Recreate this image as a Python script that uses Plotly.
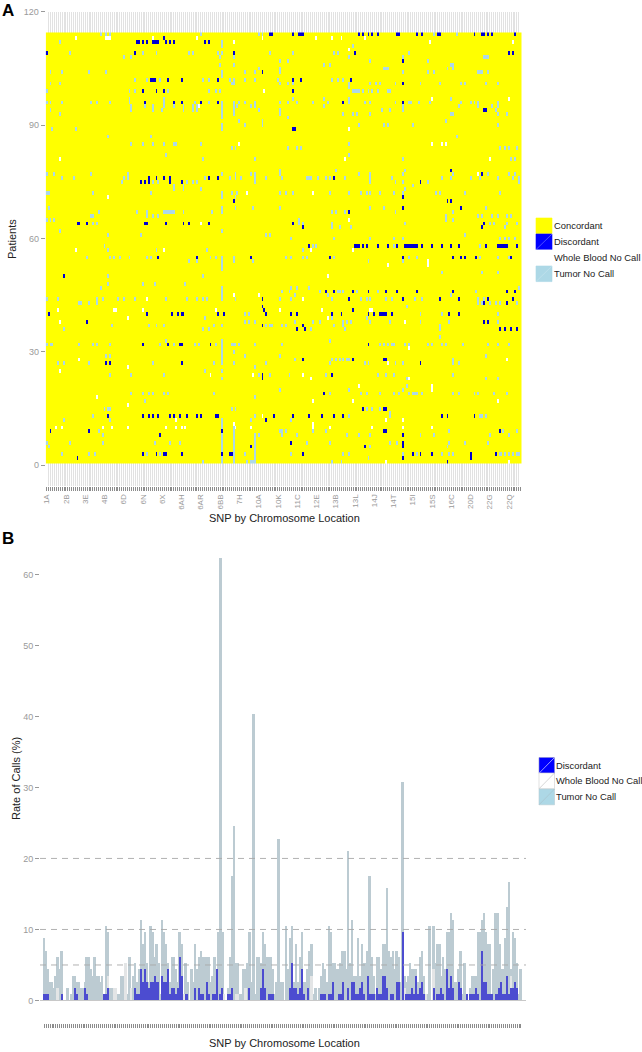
import plotly.graph_objects as go

N_SNP = 247
N_PATIENT = 114
SNP_LABELS = ["1A","2B","3E","4B","6D","6N","6X","6AH","6AR","6BB","7H","10A","10K","11C","12E","13B","13L","14J","14T","15I","15S","16C","20D","22G","22Q"]

# Panel A: patient row -> SNP columns
DISCORDANT = {
114:[117,118,129,132,133,134,163,165,168,170,173,183,184,193,196,204,205,223,227,228,230,232,244],
113:[62],112:[48,49,51,53,56,57,58,59,63,65,67,83,85],109:[1,47,98,161,241,243],107:[186],104:[113],
102:[55,56,57,64,71,90,129,133,159],101:[186],99:[51,58,62,129],96:[52,67,71,81,90,155,186],94:[228,229],
89:[129,130],78:[211],77:[227],76:[54,58,62,65,85,90,150],75:[50,52,54,65,71,195],71:[186],70:[98,209,211],
68:[186,216],67:[158],64:[17,18,22,52,53,63,72,75,85,129,228],63:[134,227],
58:[137,161,162,163,165,167,173,178,183,187,188,189,190,191,192,193,196,201,206,211,215,229,235,236,237,238,239,240,245],
55:[59,79,107,148,186,212,216,218,224,242],50:[10],46:[146,150,160,168,177,183,193,212,240,244],
44:[113,158,186,205,215,230,243],43:[228,240],42:[113],41:[114,160],
40:[2,53,66,69,71,72,90,93,115,128,131,149,154,168,171,174,175,176,177,180,210,215],
38:[22,228,230],37:[113,134],36:[131,135,236,239,242,245],32:[51,64,70,71,86,168],28:[160,176,177,134],
27:[32,34,71,195],24:[113,149],23:[113],19:[145],15:[165,176,177],
13:[33,51,54,56,59,65,67,70,74,79,81,89,90,119,129,137,144,150,155,206,209,223],12:[115],
9:[3,23,92,176,177,236],8:[60,186],6:[128,186],5:[107,166,186],
3:[51,58,62,63,71,92,96,97,134,191,195,201,221,234],2:[17,186,221],1:[209],
}
WHOLE_BLOOD_NO_CALL = {
113:[16,32,33,34,56,79,113,141,149,154,166],112:[98,200,243],110:[158],99:[114],97:[201,241],95:[80],89:[158],
85:[101,201,206,208],81:[8,156,231],77:[225],72:[105,139],71:[33],65:[158],64:[81],
57:[16,62,138,160],54:[199],53:[178,199],50:[147],45:[98,111],44:[53,134],
41:[7,36,37,51,89,122,144,169,170],39:[43,147],38:[8,187],31:[189],28:[18,240],27:[178],26:[43],25:[8],
24:[86,108,134],23:[138,189],21:[163,201],20:[201],18:[27],17:[139,160,235],16:[43],13:[113],12:[68,177,186],
11:[98,139],10:[6,9,30,35,43,63,68,71,73,99,107,139,148,170,186,201],1:[177,241],
}
TUMOR_NO_CALL = {
114:[29,32,34,81,111,113,202,214],112:[8,92],111:[92,160],109:[13,51,58,75,77,90,92,117,129,150,152,189],
108:[41,45,91,98,158,186,228,229,230],107:[122,126,169,199],106:[91,98,145,148,211,212],105:[111,122,176,177,178,209,212],
104:[3,9,23,32,92,104,109,122,186,199,202,225,226,227,230],103:[92],
102:[47,53,60,82,85,96,98,104,109,121,149,152,155],101:[3,8,97,98,122,126,129,158,169,172,174,182,195,205,216,218,229,235],
100:[158],99:[1,44,47,64,85,89,91,160,161,162,163,165,168,170,173,178,179],97:[44,62,129,145,158,211],
96:[1,3,9,24,27,34,44,62,78,85,92,98,101,104,109,122,126,131,139,147,158,166,169,182,189,190,194,200,216,221,223,225,235],
95:[45,52,56,62,67,72,77,79,92,98,100,107,109,145,186,215,225,232,235],
94:[3,45,56,61,72,77,79,92,98,111,122,175,179,186,234],93:[8,92,98,122,155,160,162,169,211,212,235,240],92:[92,126],
91:[101,113,208],90:[92,104,113,163,176,178,191,235],89:[4,16,92],87:[33,55,214],85:[45,51,56,62,67,68,81,158],
84:[97,99,126,131,133,236,239,241,245],82:[63,158],81:[82,109,186,242,244],78:[122,151,187],
77:[1,5,24,43,92,99,107,109,122,163,169,186,212,230,241,244],
76:[9,15,41,43,83,96,99,102,109,115,123,136,137,138,142,146,148,156,169,180,206,211,221,226,235,243,246],
75:[40,56,59,74,77,79,109,169,182,186,199,246],74:[67,72,191],73:[67,72,81,187],
72:[1,2,25,55,92,97,100,122,125,129,148,158,164,167,169,174,181,186,203,205,218,236],71:[92,99],
68:[2,92,99,108,122,169,176,229],67:[28,48,53,62,63,64,65,66,67,72,87,92,149,151,156,182,212],
66:[24,25,53,56,59,208,225,227,232,235,240,242],65:[1,3,5,132,208,212],64:[25,27,132,134,149,187,231,233,240,245],
63:[149,153,159,239],62:[8,92],61:[33,50,115,117,218],60:[128,150,169,181,186,236,239,241,244],
58:[31,139,141,181,226],57:[33,58,84,134],
55:[22,34,36,39,44,53,55,86,89,92,98,125,128,134,136,150,189,193,226,235,241],54:[75,79,92,98,108,168,186],
53:[92],52:[92],51:[206,227,235],50:[33,82],48:[33,51,57,73],47:[29,92,128,131,137,246],
46:[92,123,127,143,152,153,155,162,173,224],45:[92,130,147,211],
44:[1,7,27,30,38,41,47,63,74,79,82,84,92,99,122,128,149,164,167,169,177,180,192,196,225,228],
43:[18,19,23,27,225,227,231,234,236,245],42:[188],40:[104,106,195,206,235],39:[83,147,149,167],
38:[104,106,109,130,139,143,155,157,159,169,179,195,210,235],
37:[35,54,58,62,88,92,115,117,118,123,125,150,155,205],36:[10,82,85,138,156,205],34:[205],33:[63,92,148],
32:[1,3,4,18,25,27,34,60,67,78,80,89,92,97,98,99,101,109,123,174,176,178,180,181,187,189,199,201,206,208,217,230,235,241],
31:[92],30:[92,98],29:[32,34,92,104,122,229],28:[92,130,149,151,153,155,157,158,212],
27:[7,10,23,56,88,92,98,115,148,166,168,182,186,212,215],26:[109],25:[83,92],
24:[34,45,62,111,113,117,127,146,173,177,181,212],23:[92,188,229,235],21:[188],20:[122,158,186],
19:[45,51,54,56,62,64,88,148,164,167,174,181,184,189,191,192,193,196,212,215,223,225,233,240],
18:[109],17:[52],15:[31,33,34,97,99,167,170,174],14:[179],13:[25,109,158,179,226,227,229],12:[10,34,92,107,128],
11:[92],10:[92,98],9:[28,92,98,122,123,125,139,146,210,238,245],8:[30,92,98,111,109,123,131,157,163,169,195,202,231,241],
7:[92,98,109],6:[1,13,30,57,65,70,92,98,109,136,148,179,183,210,218,230],5:[2,92,98,109,169,209],
4:[92,98,109],3:[9,23,26,53,60,92,98,104,109,128,155,158,186,193,206,210,212,236,237,239,241,243,245,246],
2:[92,98,109,168],1:[82,92,98,105,107,108,109,149,154],
}

# Panel B: counts of patients (out of 114) per SNP, in column order
TUMOR_COUNT = [
10,8,5,3,3,2,4,7,5,8,0,0,2,0,1,4,4,3,3,2,2,3,7,7,5,4,7,4,4,3,4,1,12,11,2,2,2,1,1,1,
4,4,6,1,7,2,4,6,3,5,13,9,11,6,3,12,11,7,9,6,1,13,11,9,6,3,7,7,5,3,11,9,1,6,3,0,5,3,9,5,
7,8,7,7,7,7,3,4,7,5,11,71,11,1,0,2,7,20,28,6,6,1,1,5,5,6,11,3,46,1,7,7,6,11,9,7,7,7,5,1,
3,26,3,3,0,12,5,10,12,3,9,3,7,11,3,3,5,8,9,1,2,0,2,4,6,5,3,12,11,6,6,5,5,6,8,8,5,24,6,13,
4,4,10,4,9,6,6,8,20,7,4,1,7,7,5,9,9,18,8,7,8,5,8,7,3,35,4,3,4,6,5,5,5,3,7,8,4,0,1,12,
0,12,6,9,9,4,7,5,11,11,14,13,3,3,5,8,1,6,1,0,2,4,4,4,11,11,13,14,11,9,9,1,5,14,14,9,5,5,10,15,
19,5,11,10,6,1,5]
WHOLE_BLOOD_COUNT = {8:2,34:4,37:2,38:2,43:6,46:2,73:1,94:1,100:1,101:1,139:4,160:3,198:1,202:5,242:4,187:2,105:2}
DISCORDANT_COUNT = {
1:1,2:1,3:1,10:1,17:2,18:1,22:2,23:1,32:1,33:1,34:2,48:2,49:1,50:1,51:5,52:3,53:5,54:3,55:2,56:3,57:3,58:4,59:3,60:3,
62:4,63:3,64:3,65:5,66:1,67:2,68:2,69:1,70:2,71:7,72:4,74:1,75:1,79:2,81:2,82:1,83:1,85:3,86:1,88:1,89:1,90:5,92:1,93:2,
96:1,97:1,98:2,107:2,113:2,114:5,115:2,117:1,118:1,119:1,
128:2,129:6,130:2,131:2,132:1,133:2,134:5,135:1,137:2,144:1,145:1,146:1,148:1,149:1,150:3,153:1,154:1,155:3,158:2,160:3,161:3,
162:1,163:1,164:2,165:3,166:1,168:4,169:1,170:1,171:1,173:2,174:1,175:1,176:4,177:4,178:2,180:1,181:1,183:3,184:3,186:11,
188:1,189:1,190:1,191:2,192:1,193:4,194:1,195:2,196:3,197:1,202:2,204:1,205:1,206:2,207:1,209:5,210:2,211:4,212:2,215:3,216:2,
219:1,221:1,222:1,223:1,224:2,225:1,227:8,228:3,229:3,230:1,231:1,232:1,234:1,235:1,236:2,237:3,238:1,239:1,240:4,241:1,242:2,243:2,244:3,245:2,
}
REFERENCE_RATES = [5, 10, 20]
Y_TICKS_A = [0, 30, 60, 90, 120]
Y_TICKS_B = [0, 10, 20, 30, 40, 50, 60]

# page geometry
W, H = 642, 1052
def px(x): return x / W
def py(y): return 1 - y / H

snps = list(range(1, N_SNP + 1))
patients = list(range(1, N_PATIENT + 1))
z = [[0] * N_SNP for _ in patients]
for code, table in ((3, TUMOR_NO_CALL), (2, WHOLE_BLOOD_NO_CALL), (1, DISCORDANT)):
    for row, cols in table.items():
        for c in cols:
            z[row - 1][c - 1] = code

YELLOW, BLUE, LIGHT = "#ffff00", "#0000d2", "#add8e6"
colorscale = [[0, YELLOW], [0.25, YELLOW], [0.25, BLUE], [0.5, BLUE], [0.5, "#ffffff"], [0.75, "#ffffff"], [0.75, LIGHT], [1, LIGHT]]

tick_text = [""] * N_SNP
for i, lab in enumerate(SNP_LABELS):
    tick_text[i * 10] = lab

rate = 100 / N_PATIENT
fig = go.Figure()
fig.add_trace(go.Heatmap(x=snps, y=patients, z=z, zmin=0, zmax=3, colorscale=[[v, c] for v, c in colorscale],
                         showscale=False, xaxis="x", yaxis="y", xgap=0, ygap=0))
fig.add_trace(go.Bar(x=snps, y=[v * rate for v in TUMOR_COUNT], name="Tumor No Call", marker=dict(color="#bccbd2", line_width=0),
                     xaxis="x2", yaxis="y2", showlegend=False))
fig.add_trace(go.Bar(x=list(WHOLE_BLOOD_COUNT), y=[v * rate for v in WHOLE_BLOOD_COUNT.values()], name="Whole Blood No Call",
                     marker=dict(color="#e3e5e6", line_width=0), xaxis="x2", yaxis="y2", showlegend=False))
fig.add_trace(go.Bar(x=list(DISCORDANT_COUNT), y=[v * rate for v in DISCORDANT_COUNT.values()], name="Discordant", width=0.72,
                     marker=dict(color="#4c4cd0", line_width=0), xaxis="x2", yaxis="y2", showlegend=False))

GREY = "#9a9a9a"
FONT = "Liberation Sans, Arial, sans-serif"
shapes, annotations = [], []

def legend(x0, x1, tops, size, items, tx):
    for top, (label, fill, border, diag) in zip(tops, items):
        shapes.append(dict(type="rect", xref="paper", yref="paper", x0=px(x0), x1=px(x1), y0=py(top + size), y1=py(top),
                           fillcolor=fill, line=dict(color=border, width=0.6)))
        if diag:
            shapes.append(dict(type="line", xref="paper", yref="paper", x0=px(x0), x1=px(x1), y0=py(top + size), y1=py(top),
                               line=dict(color=diag, width=0.6)))
        annotations.append(dict(xref="paper", yref="paper", x=px(tx), y=py(top + size / 2), text=label, showarrow=False,
                                xanchor="left", yanchor="middle", font=dict(family=FONT, size=9.4, color="#222222")))

legend(536, 552, [218, 234, 250, 266], 15.6,
       [("Concordant", YELLOW, YELLOW, None), ("Discordant", "#0000ff", "#0000ff", "#8080ff"),
        ("Whole Blood No Call", "#ffffff", "#ffffff", None), ("Tumor No Call", LIGHT, LIGHT, "#c8e4ee")], 551.5)
legend(539, 554.5, [757.5, 773, 789], 15.8,
       [("Discordant", "#0000ff", "#8888cc", "#ffffff"), ("Whole Blood No Call", "#ffffff", "#cccccc", "#bbbbbb"),
        ("Tumor No Call", LIGHT, "#b8ccd4", "#a8c0c8")], 554.2)

for rate_line in REFERENCE_RATES:
    shapes.append(dict(type="line", xref="x2 domain", yref="y2", x0=0, x1=1, y0=rate_line, y1=rate_line, layer="above",
                       line=dict(color="#a8a8a8", width=0.9, dash="6px,5px")))

for letter, y in (("A", 10), ("B", 538)):
    annotations.append(dict(xref="paper", yref="paper", x=px(0), y=py(y), text=f"<b>{letter}</b>", showarrow=False,
                            xanchor="left", yanchor="middle", font=dict(family=FONT, size=17, color="#000000")))

titlefont = dict(family=FONT, size=11, color="#222222")
for text, x, y, angle in (("SNP by Chromosome Location", 284, 518, 0), ("SNP by Chromosome Location", 284, 1043, 0),
                          ("Patients", 12, 239, -90), ("Rate of Calls (%)", 16, 779, -90)):
    annotations.append(dict(xref="paper", yref="paper", x=px(x), y=py(y), text=text, showarrow=False, textangle=angle,
                            xanchor="center", yanchor="middle", font=titlefont))

tickfont = dict(family=FONT, size=9, color=GREY)
fig.update_layout(
    width=W, height=H, margin=dict(l=0, r=0, t=0, b=0), paper_bgcolor="white", plot_bgcolor="white",
    barmode="overlay", bargap=0, shapes=shapes, annotations=annotations, showlegend=False,
    font=dict(family=FONT),
    xaxis=dict(domain=[px(45.7), px(521.7)], range=[0.5, 247.5], tickmode="array", tickvals=snps, ticktext=tick_text, automargin=False,
               tickangle=-90, ticks="outside", ticklen=4, tickwidth=1, tickcolor="#8c8c8c", tickfont=dict(family=FONT, size=8, color=GREY),
               showgrid=True, gridcolor="#e2e2e2", gridwidth=1, zeroline=False, showline=False, anchor="y"),
    yaxis=dict(domain=[py(486.1), py(11.7)], range=[-5.5, 120], tickmode="array", tickvals=Y_TICKS_A, ticks="outside", ticklen=4, automargin=False,
               tickwidth=1, tickcolor=GREY, tickfont=tickfont, showgrid=False, zeroline=False, showline=False, anchor="x"),
    xaxis2=dict(domain=[px(40), px(526)], range=[-1.22, 249.6], tickmode="array", tickvals=snps, ticktext=[""] * N_SNP, automargin=False,
                ticks="outside", ticklen=4, tickwidth=1, tickcolor="#8c8c8c", showgrid=False, zeroline=False, showline=False, anchor="y2"),
    yaxis2=dict(domain=[py(1023), py(536)], range=[-3.17, 65.4], tickmode="array", tickvals=Y_TICKS_B, ticks="outside", ticklen=4, automargin=False,
                tickwidth=1, tickcolor=GREY, tickfont=tickfont, showgrid=False, zeroline=True, zerolinecolor="#c8c8c8", zerolinewidth=1,
                showline=False, anchor="x2"),
)
fig.write_html("out.html", config={"displayModeBar": False},
               post_script="document.body.style.margin='0';document.documentElement.style.overflow='hidden';")
